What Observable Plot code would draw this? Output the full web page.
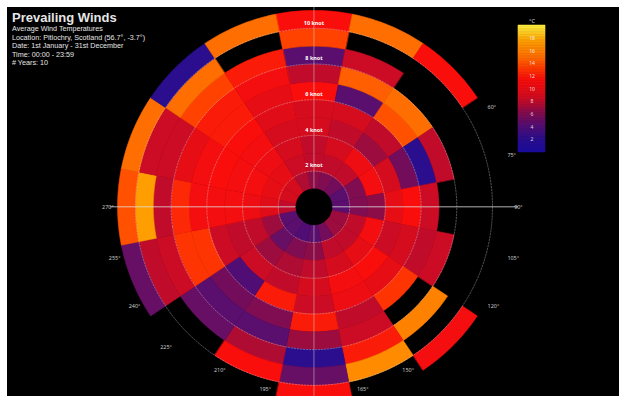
<!DOCTYPE html>
<html>
<head>
<meta charset="utf-8">
<script src="https://cdn.jsdelivr.net/npm/d3@7"></script>
<script src="https://cdn.jsdelivr.net/npm/@observablehq/plot@0.6"></script>
<style>
  html, body { margin: 0; padding: 0; background: #fff; }
  #wrap { position: relative; width: 624px; height: 406px; overflow: hidden; background: #fff; }
  #panel { position: absolute; left: 7px; top: 7px; width: 612px; height: 389px; background: #000; overflow: hidden; }
  #chart { position: absolute; left: -7px; top: -7px; }
  #legend { position: absolute; left: 511px; top: 6px; }
  #titles { position: absolute; left: 5px; top: 3px; color: #e6e6e6; font-family: "Liberation Sans", Arial, sans-serif; }
  #titles .main { font-size: 13px; font-weight: bold; line-height: 15px; }
  #titles .sub { font-size: 7.2px; line-height: 8.5px; }
</style>
</head>
<body>
<div id="wrap">
  <div id="panel">
    <div id="chart"></div>
    <div id="legend"></div>
    <div id="titles"></div>
  </div>
</div>
<script>
// ---- data -------------------------------------------------------------
const directions = ["N","NNE","NE","ENE","E","ESE","SE","SSE","S","SSW","SW","WSW","W","WNW","NW","NNW"];
// speed bin edges (knots); ring i spans speedEdges[i]..speedEdges[i+1]
const speedEdges = [1, 2, 3, 4, 5, 6, 7, 8, 9, 10, 11];
// average temperature (°C) per speed ring, inner -> outer; null = no data
const tempN   = [6.5, 8,   8,    9,    9,    11.5, 8,    4.5,  13.5, 11.5];
const tempNNE = [6,   8,   9,    8,    9,    4.5,  14.5, 8.5,  null, 15];
const tempNE  = [5.5, 8,   10.5, 7,    8,    14,   15,   null, null, 11.5];
const tempENE = [4.5, 6,   11,   9,    5.5,  2,    8,    null, null, null];
const tempE   = [4.5, 6,   6.5,  10,   11.5, 8.5,  null, null, null, null];
const tempESE = [7,   8,   11,   8.5,  9,    8,    8.5,  null, null, null];
const tempSE  = [7,   8,   10,   11.5, 10,   13,   null, 16,   null, 11];
const tempSSE = [5.5, 8,   9,    11,   10.5, 8,    8.5,  12,   16.5, null];
const tempS   = [4.5, 6.5, 8,    9,    8.5,  12,   7,    2,    5,    11.5];
const tempSSW = [4,   6,   7.5,  8,    12,   6,    4.5,  7.5,  11.5, null];
const tempSW  = [4.5, 5,   7,    8.5,  4,    5.5,  4.5,  5,    null, null];
const tempWSW = [4.5, 7,   8,    8,    8.5,  13,   13,   8.5,  8,    5];
const tempW   = [8,   9.5, 10.5, 11,   11,   11,   12.5, 8,    17.5, 14];
const tempWNW = [9,   10,  11,   11,   11.5, 11,   10,   8.5,  8.5,  15];
const tempNW  = [9,   10,  10.5, 11,   11.5, 12,   12,   13.5, 15,   2];
const tempNNW = [7.5, 8.5, 9,    9,    9.5,  10,   11,   12,   null, 15];
const seriesByDirection = [tempN, tempNNE, tempNE, tempENE, tempE, tempESE, tempSE, tempSSE,
                           tempS, tempSSW, tempSW, tempWSW, tempW, tempWNW, tempNW, tempNNW];

const gridSpeeds = [2, 4, 6, 8, 10];
const gridLabels = ["2 knot", "4 knot", "6 knot", "8 knot", "10 knot"];
// angle labels that are not hidden behind the outer cells
const degreeTicks = [60, 75, 90, 105, 120, 150, 165, 195, 210, 225, 240, 255, 270];
const legendTicks = [2, 4, 6, 8, 10, 12, 14, 16, 18];
const legendTitle = "°C";
const colorStops = [0, 2, 4.5, 6.5, 8, 9.5, 11.5, 13.5, 15, 17.5, 20];
const colorRange = ["#1c0ca0", "#2a0e8e", "#5a0e6e", "#8c0c48", "#c00c2a", "#e00c18", "#fa0e0c", "#ff4200", "#ff6e00", "#ff9e00", "#fff040"];
const titleText = "Prevailing Winds";
const subtitleLines = [
  "Average Wind Temperatures",
  "Location: Pitlochry, Scotland (56.7°, -3.7°)",
  "Date: 1st January - 31st December",
  "Time: 00:00 - 23:59",
  "# Years: 10"
];

// ---- geometry helpers (polar grid on an azimuthal projection) -----------
const step = 360 / directions.length;
const toLon = a => 180 - a;          // compass angle (clockwise from north) -> longitude
const toLat = s => 90 - s;           // speed -> latitude (distance from pole)
function arcPts(speed, a0, a1) {
  const n = Math.max(2, Math.ceil(Math.abs(a1 - a0)));
  return d3.range(n + 1).map(k => [toLon(a0 + (a1 - a0) * k / n), toLat(speed)]);
}
function cellPolygon(j, i) {
  const a0 = j * step - step / 2, a1 = j * step + step / 2;
  const ring = [...arcPts(speedEdges[i], a1, a0), ...arcPts(speedEdges[i + 1], a0, a1)];
  ring.push(ring[0]);
  return {type: "Polygon", coordinates: [ring]};
}
const cells = [];
seriesByDirection.forEach((vals, j) => vals.forEach((v, i) => {
  if (v == null) return;
  cells.push({type: "Feature", properties: {dir: directions[j], ring: i, temp: v}, geometry: cellPolygon(j, i)});
}));

const maxSpeed = speedEdges[speedEdges.length - 1];
const outer = d3.geoCircle().center([0, 90]).radius(maxSpeed).precision(1)();
const hole = d3.geoCircle().center([0, 90]).radius(speedEdges[0]).precision(1)();
const gridCircles = gridSpeeds.map(s => d3.geoCircle().center([0, 90]).radius(s).precision(1)());
const axisReach = maxSpeed + 0.4;
const axisLine = a => ({type: "LineString", coordinates: [[toLon(a), toLat(axisReach)], [toLon(a + 180), toLat(axisReach)]]});

const degreeData = degreeTicks.map(a => {
  const s = Math.sin(a * Math.PI / 180);
  const side = Math.abs(s) > 0.6;
  const r = side ? maxSpeed + 0.1 : maxSpeed - 0.45;
  return {a, s, lon: toLon(a), lat: toLat(r), label: `${a}°`};
});

const colorScale = {type: "linear", domain: colorStops, range: colorRange, clamp: true};
const labelStyle = {x: "lon", y: "lat", text: "label", fill: "#c8c8c8", fontSize: 5.5};

const chart = Plot.plot({
  width: 624, height: 406,
  marginTop: 10, marginBottom: 0, marginLeft: 118, marginRight: 110,
  projection: {type: "azimuthal-equidistant", rotate: [0, -90], domain: outer, clip: false},
  color: colorScale,
  style: {background: "transparent"},
  marks: [
    Plot.geo(cells, {fill: d => d.properties.temp, stroke: d => d.properties.temp, strokeWidth: 0.6}),
    Plot.geo(gridCircles, {stroke: "#ffffff", strokeOpacity: 0.4, strokeWidth: 0.8, strokeDasharray: "1.5,1.5"}),
    Plot.geo([axisLine(0)], {stroke: "#d8d8d8", strokeOpacity: 0.5, strokeWidth: 1}),
    Plot.geo([axisLine(90)], {stroke: "#e0e0e0", strokeOpacity: 0.8, strokeWidth: 1}),
    Plot.geo([hole], {fill: "#000", stroke: "#000"}),
    Plot.text(degreeData.filter(d => Math.abs(d.s) > 0.6 && d.s > 0), {...labelStyle, textAnchor: "start", dx: 2}),
    Plot.text(degreeData.filter(d => Math.abs(d.s) > 0.6 && d.s < 0), {...labelStyle, textAnchor: "end", dx: -2}),
    Plot.text(degreeData.filter(d => Math.abs(d.s) <= 0.6), labelStyle),
    Plot.text(gridSpeeds.map((s, k) => ({lon: toLon(0), lat: toLat(s), label: gridLabels[k]})),
      {x: "lon", y: "lat", text: "label", dy: -5.5, fill: "#ffffff", fontSize: 5.5, fontWeight: "bold"})
  ]
});
document.getElementById("chart").append(chart);

// ---- colour legend ------------------------------------------------------
const legendSlice = 0.25;
const legendSteps = d3.range(colorStops[0], colorStops[colorStops.length - 1], legendSlice);
const legend = Plot.plot({
  width: 27, height: 139,
  marginTop: 12, marginBottom: 0, marginLeft: 0, marginRight: 0,
  x: {domain: [0, 1], axis: null},
  y: {domain: [colorStops[0], colorStops[colorStops.length - 1]], axis: null},
  color: colorScale,
  style: {background: "transparent", overflow: "visible"},
  marks: [
    Plot.rect(legendSteps, {x1: 0, x2: 1, y1: d => d, y2: d => d + legendSlice, fill: d => d + legendSlice / 2, stroke: d => d + legendSlice / 2, strokeWidth: 0.5}),
    Plot.text(legendTicks, {x: 0.5, y: d => d, text: d => String(d), fill: "#ffffff", fillOpacity: 0.8, fontSize: 5}),
    Plot.text([legendTitle], {frameAnchor: "top", dy: -6, fill: "#dddddd", fontSize: 5.5})
  ]
});
document.getElementById("legend").append(legend);

// ---- titles ---------------------------------------------------------------
const titles = document.getElementById("titles");
const t = document.createElement("div"); t.className = "main"; t.textContent = titleText; titles.append(t);
for (const line of subtitleLines) { const d = document.createElement("div"); d.className = "sub"; d.textContent = line; titles.append(d); }
</script>
</body>
</html>
